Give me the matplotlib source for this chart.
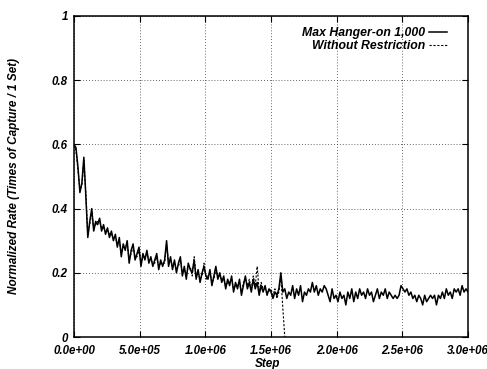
import matplotlib
matplotlib.use("Agg")
import matplotlib.pyplot as plt
import numpy as np

step_spacing = 15000
max_hanger = [
    0.60, 0.59, 0.53, 0.45, 0.48, 0.56, 0.44, 0.31, 0.36, 0.40,
    0.33, 0.36, 0.35, 0.37, 0.33, 0.35, 0.32, 0.34, 0.31, 0.33,
    0.30, 0.32, 0.28, 0.31, 0.25, 0.29, 0.27, 0.30, 0.23, 0.27,
    0.29, 0.24, 0.26, 0.28, 0.22, 0.26, 0.24, 0.27, 0.23, 0.25,
    0.22, 0.24, 0.26, 0.21, 0.24, 0.22, 0.24, 0.30, 0.22, 0.25,
    0.21, 0.24, 0.20, 0.23, 0.25, 0.19, 0.22, 0.18, 0.23, 0.21,
    0.20, 0.24, 0.18, 0.21, 0.17, 0.20, 0.22, 0.19, 0.18, 0.21,
    0.16, 0.19, 0.22, 0.18, 0.20, 0.17, 0.19, 0.15, 0.18, 0.16,
    0.19, 0.14, 0.17, 0.15, 0.18, 0.13, 0.16, 0.19, 0.15, 0.17,
    0.14, 0.18, 0.15, 0.17, 0.13, 0.16, 0.14, 0.16, 0.13, 0.15,
    0.14, 0.12, 0.14, 0.13, 0.15, 0.20, 0.14, 0.15, 0.12, 0.14,
    0.13, 0.16, 0.12, 0.15, 0.13, 0.16, 0.11, 0.14, 0.13, 0.15,
    0.14, 0.17, 0.14, 0.16, 0.13, 0.15, 0.14, 0.16, 0.15, 0.13,
    0.11, 0.15, 0.12, 0.13, 0.11, 0.14, 0.12, 0.13, 0.10, 0.14,
    0.12, 0.15, 0.11, 0.14, 0.12, 0.15, 0.13, 0.14, 0.12, 0.15,
    0.13, 0.14, 0.11, 0.13, 0.15, 0.12, 0.14, 0.13, 0.15, 0.12,
    0.14, 0.13, 0.12, 0.13, 0.12, 0.13, 0.16, 0.15, 0.14, 0.15,
    0.13, 0.14, 0.12, 0.13, 0.11, 0.13, 0.12, 0.10, 0.13, 0.11,
    0.12, 0.13, 0.12, 0.13, 0.10, 0.13, 0.12, 0.14, 0.12, 0.15,
    0.13, 0.14, 0.12, 0.15, 0.14, 0.15, 0.13, 0.16, 0.14, 0.15,
    0.14,
]
no_restriction = [
    0.60, 0.58, 0.52, 0.46, 0.47, 0.55, 0.45, 0.32, 0.35, 0.39,
    0.34, 0.35, 0.36, 0.36, 0.34, 0.34, 0.33, 0.33, 0.32, 0.32,
    0.31, 0.31, 0.29, 0.30, 0.26, 0.28, 0.28, 0.29, 0.24, 0.26,
    0.28, 0.25, 0.25, 0.27, 0.23, 0.25, 0.25, 0.26, 0.24, 0.24,
    0.23, 0.23, 0.25, 0.22, 0.23, 0.23, 0.23, 0.29, 0.23, 0.24,
    0.22, 0.23, 0.21, 0.22, 0.24, 0.20, 0.21, 0.19, 0.22, 0.22,
    0.19, 0.25, 0.19, 0.20, 0.18, 0.19, 0.23, 0.18, 0.19, 0.20,
    0.17, 0.18, 0.21, 0.19, 0.19, 0.18, 0.18, 0.16, 0.17, 0.17,
    0.18, 0.15, 0.16, 0.16, 0.17, 0.14, 0.17, 0.18, 0.16, 0.18,
    0.15, 0.19, 0.16, 0.22, 0.14, 0.17, 0.15, 0.15, 0.14, 0.14,
    0.15, 0.13, 0.15, 0.12, 0.14, 0.19, 0.09, 0.00,
]
x_ticks = [0, 5e5, 1e6, 1.5e6, 2e6, 2.5e6, 3e6]
x_tick_labels = ["0.0e+00", "5.0e+05", "1.0e+06", "1.5e+06", "2.0e+06", "2.5e+06", "3.0e+06"]
y_ticks = [0, 0.2, 0.4, 0.6, 0.8, 1.0]
y_tick_labels = ["0", "0.2", "0.4", "0.6", "0.8", "1"]

plt.rcParams["font.family"] = ["Liberation Sans", "DejaVu Sans"]
plt.rcParams["font.weight"] = "bold"
plt.rcParams["font.style"] = "italic"

fig = plt.figure(figsize=(4.87, 3.69), dpi=100)
ax = fig.add_axes([74 / 487, 32 / 369, 394 / 487, 321 / 369])

steps_a = np.arange(len(max_hanger)) * step_spacing
steps_b = np.arange(len(no_restriction)) * step_spacing
ax.plot(steps_a, max_hanger, color="black", lw=1.1, label="Max Hanger-on 1,000")
ax.plot(steps_b, no_restriction, color="black", lw=0.8, linestyle=(0, (2, 1.5)),
        label="Without Restriction")

ax.set_xlim(0, 3e6)
ax.set_ylim(0, 1)
ax.set_xticks(x_ticks)
ax.set_xticklabels(x_tick_labels)
ax.set_yticks(y_ticks)
ax.set_yticklabels(y_tick_labels)
ax.tick_params(direction="in", length=4, width=0.8, labelsize=8.3,
               top=True, right=True)
ax.tick_params(axis="x", pad=5.5)
ax.tick_params(axis="y", pad=4.5)
ax.grid(True, color="0.2", linestyle=(0, (1, 2.5)), lw=0.6)
for spine in ax.spines.values():
    spine.set_linewidth(1.1)

ax.set_xlabel("Step", fontsize=8.5, fontweight="bold", fontstyle="italic")
ax.xaxis.set_label_coords(0.492, -0.066)
ax.set_ylabel("Normalized Rate (Times of Capture / 1 Set)", fontsize=8.5,
              fontweight="bold", fontstyle="italic")
ax.yaxis.set_label_coords(-0.137, 0.5)

leg = ax.legend(loc="upper right", bbox_to_anchor=(0.959, 0.981), borderaxespad=0,
                frameon=False, markerfirst=False, fontsize=8.8,
                handlelength=1.5, handletextpad=0.3, labelspacing=0.1)
for t in leg.get_texts():
    t.set_ha("right")

fig.savefig("out.png", dpi=100)
